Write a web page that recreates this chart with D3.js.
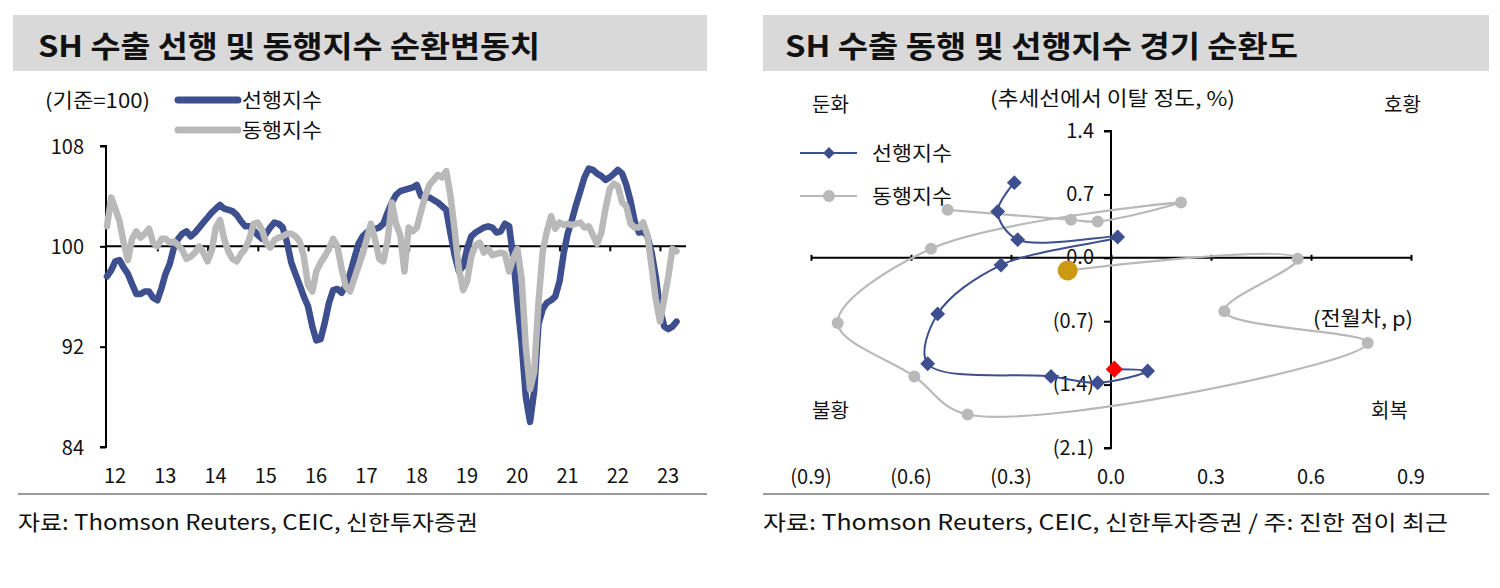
<!DOCTYPE html>
<html><head><meta charset="utf-8">
<script src="https://cdn.jsdelivr.net/npm/d3@7"></script>
<style>
html,body{margin:0;padding:0;background:#fff;}
svg text{font-family:"Noto Sans CJK KR","Noto Sans",sans-serif;fill:#111;}
</style></head>
<body><svg id="c" width="1500" height="588"></svg>
<script>
// ---------- Left chart data (monthly, Jan 2012 - May 2023) ----------
const startYear = 2012;
const leadIndex = [
 97.6, 98.1, 98.8, 98.9, 98.3, 97.8, 97.0, 96.2, 96.2, 96.4,
 96.4, 95.9, 95.7, 96.7, 97.8, 98.6, 99.9, 100.6, 101.0, 101.2,
 100.8, 101.1, 101.5, 101.9, 102.3, 102.7, 103.0, 103.3, 103.0, 102.9,
 102.8, 102.5, 102.0, 101.6, 101.6, 101.3, 100.9, 100.6, 101.0, 101.5,
 101.9, 101.8, 101.5, 100.3, 98.7, 97.8, 96.9, 96.0, 95.2, 93.6,
 92.5, 92.6, 93.9, 95.5, 96.5, 96.6, 96.3, 96.9, 97.8, 99.0,
 100.2, 100.8, 101.1, 101.3, 101.4, 101.5, 101.8, 102.7, 103.5, 104.1,
 104.4, 104.5, 104.6, 104.7, 104.9, 104.0, 103.9, 103.9, 103.7, 103.5,
 103.2, 102.9, 101.0, 99.3, 98.0, 98.4, 99.8, 100.8, 101.1, 101.3,
 101.5, 101.6, 101.5, 101.1, 101.2, 101.8, 101.6, 99.0, 95.5, 92.2,
 88.0, 86.0, 88.5, 93.8, 95.0, 95.5, 95.7, 96.0, 97.2, 99.5,
 101.0, 102.1, 103.3, 104.4, 105.5, 106.2, 106.1, 105.8, 105.6, 105.3,
 105.5, 105.8, 106.1, 105.8, 104.9, 103.6, 102.0, 101.1, 101.2, 100.8,
 99.5, 97.6, 95.0, 93.6, 93.4, 93.6, 94.0
];
const coinIndex = [
 101.6, 103.9, 103.0, 102.0, 100.3, 98.9, 100.6, 101.2, 100.7, 101.0,
 101.4, 100.3, 100.0, 100.6, 100.6, 100.3, 100.4, 100.1, 99.7, 99.0,
 99.2, 99.5, 100.0, 99.5, 98.8, 99.7, 101.5, 102.1, 100.6, 99.6,
 99.0, 98.8, 99.4, 99.8, 100.6, 101.8, 101.9, 101.3, 100.3, 99.9,
 100.5, 100.7, 100.8, 101.0, 101.0, 100.8, 100.4, 99.2, 96.9, 96.4,
 98.0, 98.7, 99.2, 99.8, 100.6, 100.0, 98.2, 96.8, 96.4, 97.4,
 98.4, 99.4, 100.5, 101.8, 100.6, 99.0, 98.8, 100.5, 103.5, 101.8,
 100.9, 98.0, 101.5, 101.2, 101.5, 102.8, 104.0, 104.9, 105.3, 105.7,
 105.5, 106.0, 104.0, 101.3, 98.2, 96.5, 97.2, 99.2, 100.1, 100.3,
 99.5, 99.8, 99.3, 99.4, 99.5, 99.4, 98.0, 99.1, 99.8, 97.4,
 92.0, 88.6, 90.0, 95.5, 99.6, 101.2, 102.4, 101.4, 101.9, 101.7,
 101.8, 101.7, 101.8, 101.9, 101.5, 101.6, 100.9, 100.2, 101.1, 103.0,
 104.6, 105.0, 104.8, 103.5, 103.2, 101.8, 101.5, 101.5, 101.9, 100.9,
 98.4, 95.8, 94.0, 95.8, 97.5, 99.8, 99.6
];
const yearLabels = ["12","13","14","15","16","17","18","19","20","21","22","23"];
const leftYTicks = [84, 92, 100, 108];

// ---------- Right chart data (cycle clock) ----------
const leadMoM   = [-0.29, -0.34, -0.28, 0.02, -0.33, -0.52, -0.55, -0.18, -0.04, 0.11, 0.01];
const leadTrend = [ 0.83,  0.51,  0.20, 0.23, -0.08, -0.62, -1.17, -1.31, -1.38, -1.25, -1.23];
const coinMoM   = [-0.49, -0.12, -0.04, 0.21, -0.54, -0.82, -0.59, -0.43, 0.77, 0.34, 0.56, -0.13];
const coinTrend = [ 0.53,  0.42,  0.40, 0.61,  0.10, -0.72, -1.31, -1.73, -0.94, -0.59, -0.01, -0.14];
const rightXTicks = [-0.9, -0.6, -0.3, 0.0, 0.3, 0.6, 0.9];
const rightYTicks = [1.4, 0.7, 0.0, -0.7, -1.4, -2.1];

const BLUE = "#3D4F8F", GRAY = "#B9B9B9", GOLD = "#CC9A12", RED = "#FF0000";
const svg = d3.select("#c");

function txt(x, y, s, size, opts = {}) {
  const t = svg.append("text").attr("x", x).attr("y", y).text(s)
    .style("font-size", size + "px")
    .attr("text-anchor", opts.anchor || "start");
  if (opts.bold) t.style("font-weight", "bold");
  if (opts.len) t.attr("textLength", opts.len).attr("lengthAdjust", "spacingAndGlyphs");
  return t;
}

// ---------- Title boxes ----------
svg.append("rect").attr("x", 13).attr("y", 15).attr("width", 694).attr("height", 56).attr("fill", "#D9D9D9");
svg.append("rect").attr("x", 763).attr("y", 15).attr("width", 726).attr("height", 56).attr("fill", "#D9D9D9");
txt(38, 57, "SH 수출 선행 및 동행지수 순환변동치", 30, {bold: true, len: 502});
txt(785, 57, "SH 수출 동행 및 선행지수 경기 순환도", 30, {bold: true, len: 513});

// ---------- Bottom separators & sources ----------
svg.append("line").attr("x1", 18).attr("x2", 707).attr("y1", 494).attr("y2", 494).attr("stroke", "#9A9A9A").attr("stroke-width", 2);
svg.append("line").attr("x1", 763).attr("x2", 1489).attr("y1", 494).attr("y2", 494).attr("stroke", "#9A9A9A").attr("stroke-width", 2);
txt(18, 530, "자료: Thomson Reuters, CEIC, 신한투자증권", 21, {len: 460});
txt(763, 530, "자료: Thomson Reuters, CEIC, 신한투자증권 / 주: 진한 점이 최근", 21, {len: 685});

// ---------- Left chart ----------
const months = d3.range(leadIndex.length).map(i => new Date(startYear, i, 1));
const xL = d3.scaleTime().domain([new Date(2012, 0, 1), new Date(2023, 0, 1)]).range([107, 660]);
const yL = d3.scaleLinear().domain([84, 108]).range([447, 146]);

// y axis
const gy = svg.append("g").attr("transform", "translate(106,0)")
  .call(d3.axisLeft(yL).tickValues(leftYTicks).tickSize(6).tickFormat(d3.format("d")).tickPadding(20));
gy.select(".domain").attr("stroke", "#000").attr("stroke-width", 2).attr("d", `M-6,${yL(108)}H0V${yL(84)}H-6`);
gy.selectAll(".tick line").attr("stroke", "#000").attr("stroke-width", 2);
gy.selectAll(".tick text").style("font-size", "20px").attr("x", -22).attr("text-anchor", "end").attr("dy", "0.35em");

// x axis at 100
const yearTicks = d3.range(2013, 2024).map(y => new Date(y, 0, 1));
const gx = svg.append("g").attr("transform", `translate(0,${yL(100)})`)
  .call(d3.axisBottom(xL).tickValues(yearTicks).tickSize(5).tickFormat(""));
gx.select(".domain").attr("stroke", "#000").attr("stroke-width", 2).attr("d", `M106,0H686`);
gx.selectAll(".tick line").attr("stroke", "#000").attr("stroke-width", 2);

// year labels
const labelDates = d3.range(2012, 2024).map(y => new Date(y, 0, 1));
svg.append("g").selectAll("text").data(labelDates).join("text")
  .attr("x", d => xL(d) + 8).attr("y", 483).attr("text-anchor", "middle")
  .style("font-size", "20px").text((d, i) => yearLabels[i]);

const lineL = d3.line().x((d, i) => xL(months[i])).y(d => yL(d)).curve(d3.curveLinear);
svg.append("path").datum(leadIndex).attr("d", lineL).attr("fill", "none")
  .attr("stroke", BLUE).attr("stroke-width", 6.5).attr("stroke-linejoin", "round").attr("stroke-linecap", "round");
svg.append("path").datum(coinIndex).attr("d", lineL).attr("fill", "none")
  .attr("stroke", GRAY).attr("stroke-width", 6.5).attr("stroke-linejoin", "round").attr("stroke-linecap", "round");

// left legend
txt(45, 108, "(기준=100)", 20, {len: 105});
svg.append("line").attr("x1", 178).attr("x2", 238).attr("y1", 100).attr("y2", 100).attr("stroke", BLUE).attr("stroke-width", 7).attr("stroke-linecap", "round");
txt(242, 108, "선행지수", 20, {len: 80});
svg.append("line").attr("x1", 178).attr("x2", 238).attr("y1", 130).attr("y2", 130).attr("stroke", GRAY).attr("stroke-width", 7).attr("stroke-linecap", "round");
txt(242, 138, "동행지수", 20, {len: 80});

// ---------- Right chart ----------
const xR = d3.scaleLinear().domain([-0.9, 0.9]).range([811, 1411]);
const yR = d3.scaleLinear().domain([-2.1, 1.4]).range([448, 131]);
const fmt = v => { const s = Math.abs(v).toFixed(1); return v < -1e-9 ? `(${s})` : s; };

// x axis at 0
const gxR = svg.append("g").attr("transform", `translate(0,${yR(0)})`)
  .call(d3.axisBottom(xR).tickValues(rightXTicks).tickSize(6).tickFormat(""));
gxR.select(".domain").attr("stroke", "#000").attr("stroke-width", 2).attr("d", `M${xR(-0.9)},0H${xR(0.9)}`);
gxR.selectAll(".tick line").attr("stroke", "#000").attr("stroke-width", 2).attr("y1", -3).attr("y2", 3);
svg.append("g").selectAll("text").data(rightXTicks).join("text")
  .attr("x", d => xR(d)).attr("y", 484).attr("text-anchor", "middle")
  .style("font-size", "20px").text(fmt);

// y axis at 0
const gyR = svg.append("g").attr("transform", `translate(${xR(0)},0)`)
  .call(d3.axisLeft(yR).tickValues(rightYTicks).tickSize(7).tickFormat(fmt).tickPadding(10));
gyR.select(".domain").attr("stroke", "#000").attr("stroke-width", 2).attr("d", `M-7,${yR(1.4)}H0V${yR(-2.1)}H-7`);
gyR.selectAll(".tick line").attr("stroke", "#000").attr("stroke-width", 2);
gyR.selectAll(".tick text").style("font-size", "20px").attr("dy", "0.3em");

// quadrant labels
txt(812, 112, "둔화", 20);
txt(1384, 112, "호황", 20);
txt(812, 418, "불황", 20);
txt(1371, 418, "회복", 20);
txt(990, 106, "(추세선에서 이탈 정도, %)", 20, {len: 245});
txt(1313, 326, "(전월차, p)", 20, {len: 100});

const diamond = (s) => d3.symbol(d3.symbolSquare, s)();

// right legend
svg.append("line").attr("x1", 800).attr("x2", 857).attr("y1", 153).attr("y2", 153).attr("stroke", BLUE).attr("stroke-width", 2);
svg.append("path").attr("d", diamond(70)).attr("transform", "translate(829,153) rotate(45)").attr("fill", BLUE);
txt(872, 161, "선행지수", 20, {len: 80});
svg.append("line").attr("x1", 800).attr("x2", 857).attr("y1", 196).attr("y2", 196).attr("stroke", GRAY).attr("stroke-width", 2);
svg.append("circle").attr("cx", 829).attr("cy", 196).attr("r", 6).attr("fill", GRAY);
txt(872, 204, "동행지수", 20, {len: 80});

const lineR = d3.line().curve(d3.curveCatmullRom.alpha(0.5));

// coincident
const coinPts = coinMoM.map((v, i) => [xR(v), yR(coinTrend[i])]);
svg.append("path").attr("d", lineR(coinPts)).attr("fill", "none").attr("stroke", GRAY).attr("stroke-width", 2.2);
svg.append("g").selectAll("circle").data(coinPts).join("circle")
  .attr("cx", d => d[0]).attr("cy", d => d[1])
  .attr("r", (d, i) => i === coinPts.length - 1 ? 10 : 6)
  .attr("fill", (d, i) => i === coinPts.length - 1 ? GOLD : GRAY);

// leading
const leadPts = leadMoM.map((v, i) => [xR(v), yR(leadTrend[i])]);
svg.append("path").attr("d", lineR(leadPts)).attr("fill", "none").attr("stroke", BLUE).attr("stroke-width", 2);
svg.append("g").selectAll("path").data(leadPts).join("path")
  .attr("d", (d, i) => diamond(i === leadPts.length - 1 ? 150 : 110))
  .attr("transform", d => `translate(${d[0]},${d[1]}) rotate(45)`)
  .attr("fill", (d, i) => i === leadPts.length - 1 ? RED : BLUE);
</script></body></html>
